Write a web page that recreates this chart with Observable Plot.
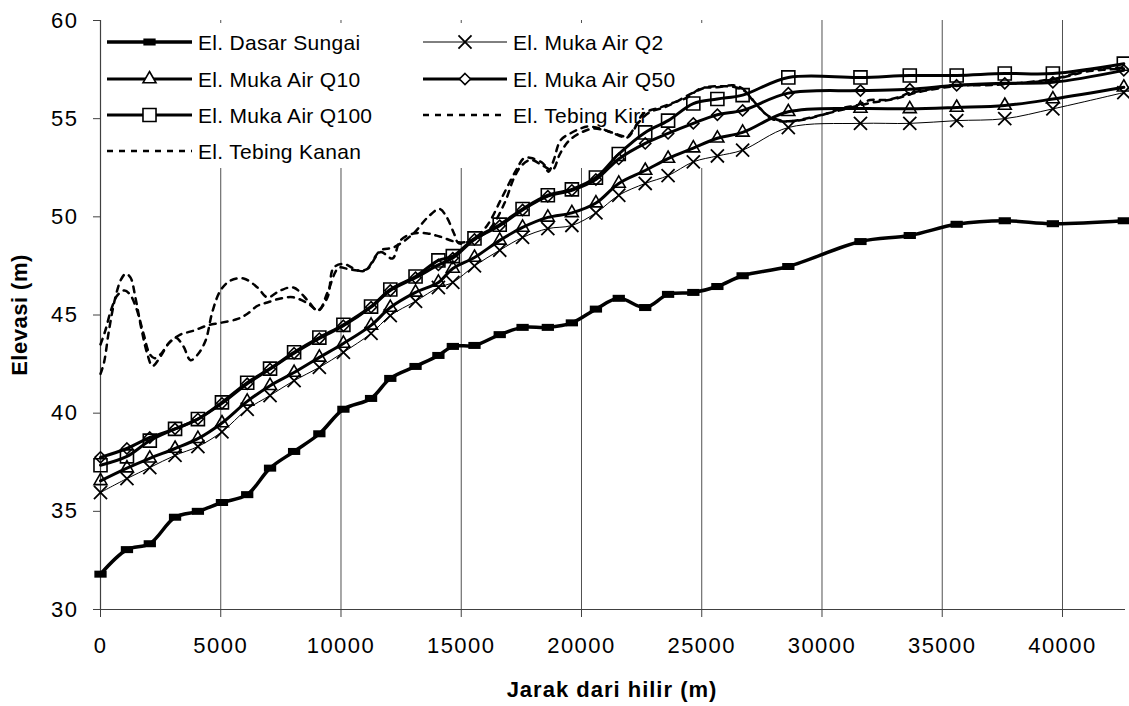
<!DOCTYPE html>
<html>
<head>
<meta charset="utf-8">
<script src="https://cdn.jsdelivr.net/npm/d3@7"></script>
<script src="https://cdn.jsdelivr.net/npm/@observablehq/plot@0.6"></script>
<style>
html,body{margin:0;padding:0;background:#fff;}
#chart{position:relative;width:1129px;height:706px;overflow:hidden;}
</style>
</head>
<body>
<div id="chart"></div>
<script>
// ---------------- DATA ----------------
const stations = [0,1100,2050,3100,4050,5050,6100,7050,8050,9100,10100,11250,12050,13100,14050,14650,15550,16600,17550,18600,19600,20600,21550,22650,23600,24650,25650,26700,28600,31600,33650,35600,37600,39600,42550];

const dasarSungai = [31.8,33.05,33.35,34.7,35.0,35.45,35.85,37.2,38.05,38.95,40.2,40.75,41.77,42.38,42.94,43.4,43.45,44.0,44.37,44.37,44.6,45.3,45.85,45.38,46.05,46.15,46.45,47.0,47.47,48.74,49.05,49.62,49.8,49.65,49.8];
const mukaAirQ2 = [35.96,36.67,37.23,37.85,38.3,39.05,40.2,40.9,41.66,42.33,43.1,44.06,44.97,45.7,46.4,46.66,47.5,48.3,48.95,49.4,49.56,50.2,51.1,51.7,52.1,52.8,53.1,53.4,54.55,54.76,54.76,54.9,55.0,55.5,56.33];
const mukaAirQ10 = [36.55,37.2,37.7,38.2,38.7,39.5,40.6,41.4,42.07,42.84,43.55,44.47,45.38,46.15,46.66,47.37,47.93,48.8,49.46,49.97,50.2,50.7,51.7,52.36,52.97,53.5,54.0,54.3,55.35,55.52,55.5,55.57,55.67,56.0,56.6];
const mukaAirQ50 = [37.75,38.2,38.76,39.2,39.7,40.5,41.5,42.25,43.05,43.8,44.45,45.4,46.25,46.9,47.55,47.9,48.85,49.55,50.35,51.05,51.35,51.9,52.95,53.74,54.25,54.76,55.2,55.42,56.3,56.43,56.5,56.7,56.8,56.85,57.46];
const mukaAirQ100 = [37.35,37.8,38.6,39.2,39.7,40.55,41.55,42.27,43.1,43.85,44.5,45.43,46.3,46.96,47.78,48.0,48.9,49.6,50.4,51.1,51.4,52.0,53.2,54.3,54.9,55.77,56.0,56.2,57.1,57.1,57.2,57.2,57.3,57.3,57.8];

const tebingKiriJarak = [0,200,450,700,1000,1250,1500,1800,2050,2250,2500,2830,3320,3870,4450,4990,5700,6110,6530,6940,7480,8020,8610,9070,9440,9900,10270,10690,11100,11640,12140,12470,13010,13600,14100,14900,15550,16200,16800,17200,17500,17900,18400,18800,19100,19500,20000,20500,21000,21500,21900,22300,22800,23500,24000,24600,25200,25800,26400,26800,27300,27900,28500,29300,30000,31000,32000,33000,34000,35500,37000,38500,40000,41000,42550];
const tebingKiriElev = [43.5,44.2,45.3,46.0,46.25,46.0,45.3,44.0,43.0,42.8,43.0,43.55,44.0,44.2,44.47,44.6,44.8,45.06,45.47,45.64,45.84,45.9,45.6,45.23,46.15,47.4,47.35,47.27,47.35,48.2,47.88,48.8,49.15,49.15,49.0,48.7,48.85,49.4,50.7,52.0,52.6,52.9,52.6,52.4,53.2,53.9,54.3,54.5,54.4,54.2,54.1,54.7,55.3,55.6,55.9,56.3,56.6,56.65,56.6,56.4,55.7,55.0,54.85,55.0,55.2,55.5,55.8,56.0,56.35,56.65,56.75,56.85,57.1,57.4,57.55];

const tebingKananJarak = [0,150,350,600,850,1050,1250,1450,1700,1950,2160,2500,2830,3120,3450,3740,4050,4370,4660,4990,5400,5950,6530,6940,7480,8020,8610,9020,9440,9690,10100,10690,11020,11640,12180,13010,13600,14100,14400,14700,14900,15550,16100,16630,17050,17340,17590,17900,18420,18630,18840,19130,19540,19960,20250,20790,21330,21910,22160,22580,23280,23830,24410,24950,25650,26320,26690,27150,27700,28300,29000,29600,30300,30900,31500,32000,32600,33200,33600,34200,35400,36700,38100,39400,40500,41100,42550];
const tebingKananElev = [42.0,42.6,44.2,45.8,46.8,47.1,46.9,45.9,44.3,43.0,42.4,42.9,43.55,43.85,43.4,42.7,43.0,43.7,45.2,46.25,46.75,46.86,46.4,45.9,46.25,46.4,45.75,45.23,45.9,47.4,47.6,47.27,47.27,48.29,48.44,49.15,49.97,50.4,49.97,49.15,48.65,48.9,49.6,50.83,51.85,52.5,52.97,53.0,52.7,52.3,52.87,53.9,54.25,54.5,54.6,54.5,54.25,54.04,54.4,55.26,55.57,55.82,56.08,56.54,56.6,56.7,56.54,55.9,55.2,54.9,54.9,55.05,55.3,55.55,55.7,55.95,55.95,56.1,56.3,56.43,56.7,56.7,56.8,56.95,57.3,57.5,57.6];

const xTicks = [0,5000,10000,15000,20000,25000,30000,35000,40000];
const yTicks = [30,35,40,45,50,55,60];
const xDomain = [0, 42620];
const yDomain = [30, 60];

const seriesNames = ["El. Dasar Sungai","El. Muka Air Q2","El. Muka Air Q10","El. Muka Air Q50","El. Muka Air Q100","El. Tebing Kiri","El. Tebing Kanan"];
const xLabel = "Jarak dari hilir (m)";
const yLabel = "Elevasi (m)";

// ---------------- BUILD ----------------
const toRows = (xs, ys) => xs.map((x, i) => ({x, y: ys[i]}));
const dasar = toRows(stations, dasarSungai);
const q2 = toRows(stations, mukaAirQ2);
const q10 = toRows(stations, mukaAirQ10);
const q50 = toRows(stations, mukaAirQ50);
const q100 = toRows(stations, mukaAirQ100);
const kiri = toRows(tebingKiriJarak, tebingKiriElev);
const kanan = toRows(tebingKananJarak, tebingKananElev);

const rectSymbol = {
  draw(ctx, size) {
    const h = Math.sqrt(size) * 0.6, w = h * 1.75;
    ctx.moveTo(-w/2, -h/2); ctx.lineTo(w/2, -h/2); ctx.lineTo(w/2, h/2); ctx.lineTo(-w/2, h/2); ctx.closePath();
  }
};

const style = {
  dasar: {stroke: "#000", strokeWidth: 3.5, symbol: rectSymbol, r: 6.6, fill: "#000", mstroke: "none", msw: 0, dash: null},
  q2:    {stroke: "#000", strokeWidth: 1, symbol: "times", r: 6, fill: "none", mstroke: "#000", msw: 1.8, dash: null},
  q10:   {stroke: "#000", strokeWidth: 3, symbol: "triangle2", r: 6.2, fill: "none", mstroke: "#000", msw: 1.6, dash: null},
  q50:   {stroke: "#000", strokeWidth: 3, symbol: "diamond2", r: 5, fill: "none", mstroke: "#000", msw: 1.6, dash: null},
  q100:  {stroke: "#000", strokeWidth: 3, symbol: "square2", r: 8.3, fill: "none", mstroke: "#000", msw: 1.6, dash: null},
  kiri:  {stroke: "#000", strokeWidth: 2.5, dash: "6,6"},
  kanan: {stroke: "#000", strokeWidth: 2.5, dash: "6,6"}
};

const lineMark = (data, s) => Plot.line(data, {x: "x", y: "y", stroke: s.stroke, strokeWidth: s.strokeWidth, strokeDasharray: s.dash || undefined, curve: "catmull-rom"});
const dotMark = (data, s) => Plot.dot(data, {x: "x", y: "y", symbol: s.symbol, r: s.r, fill: s.fill, stroke: s.mstroke, strokeWidth: s.msw});

const plot = Plot.plot({
  width: 1129, height: 706,
  marginLeft: 100, marginRight: 4, marginTop: 20, marginBottom: 97,
  x: {domain: xDomain},
  y: {domain: yDomain},
  style: {fontFamily: "'Liberation Sans', Arial, sans-serif", fontSize: "22px", color: "#000", background: "#fff", overflow: "visible", letterSpacing: "1.5px"},
  marks: [
    Plot.gridX(xTicks.filter(d => d > 0), {stroke: "#505050", strokeOpacity: 1, strokeWidth: 1}),
    Plot.ruleX([xDomain[0]], {stroke: "#404040", strokeWidth: 1.2}),
    Plot.ruleY([yDomain[0]], {stroke: "#404040", strokeWidth: 1.2}),
    Plot.axisX(xTicks, {tickSize: 8, tickPadding: 20, tickFormat: d => String(d), label: null, stroke: "#404040", fontSize: 22}),
    Plot.axisY(yTicks, {tickSize: 7, tickPadding: 15, label: null, stroke: "#404040", fontSize: 22}),
    lineMark(kanan, style.kanan),
    lineMark(kiri, style.kiri),
    lineMark(dasar, style.dasar),
    lineMark(q2, style.q2),
    lineMark(q10, style.q10),
    lineMark(q50, style.q50),
    lineMark(q100, style.q100),
    dotMark(dasar, style.dasar),
    dotMark(q2, style.q2),
    dotMark(q10, style.q10),
    dotMark(q50, style.q50),
    dotMark(q100, style.q100)
  ]
});

document.getElementById("chart").appendChild(plot);

// ---------------- LEGEND & TITLES ----------------
const NS = "http://www.w3.org/2000/svg";
const svg = d3.select(plot);
const gridNode = plot.querySelector('[aria-label="x-grid"]');
const legendG = document.createElementNS(NS, "g");
if (gridNode) gridNode.after(legendG); else plot.insertBefore(legendG, plot.firstChild.nextSibling);
const lg = d3.select(legendG);
lg.append("rect").attr("x", 101).attr("y", 23).attr("width", 612).attr("height", 145).attr("fill", "#fff");

const symMap = {times: d3.symbolTimes, triangle2: d3.symbolTriangle2, diamond2: d3.symbolDiamond2, square2: d3.symbolSquare2};
const legendLayout = [
  {key: "dasar", col: 0, row: 0},
  {key: "q2", col: 1, row: 0},
  {key: "q10", col: 0, row: 1},
  {key: "q50", col: 1, row: 1},
  {key: "q100", col: 0, row: 2},
  {key: "kiri", col: 1, row: 2},
  {key: "kanan", col: 0, row: 3}
];
const colX = [[107, 192, 198], [423, 507, 513]];
const rowY = [42, 79, 115, 151];
legendLayout.forEach((it, i) => {
  const s = style[it.key];
  const [x0, x1, tx] = colX[it.col];
  const y = rowY[it.row];
  const g = lg.append("g");
  g.append("line").attr("x1", x0).attr("x2", x1).attr("y1", y).attr("y2", y)
    .attr("stroke", s.stroke).attr("stroke-width", s.strokeWidth)
    .attr("stroke-dasharray", s.dash || null);
  if (s.symbol) {
    const type = typeof s.symbol === "string" ? symMap[s.symbol] : s.symbol;
    g.append("path").attr("transform", `translate(${(x0 + x1) / 2},${y})`)
      .attr("d", d3.symbol(type, Math.PI * s.r * s.r)())
      .attr("fill", s.fill === "none" ? "#fff" : s.fill)
      .attr("stroke", s.mstroke).attr("stroke-width", s.msw);
  }
  g.append("text").attr("x", tx).attr("y", y).attr("dy", "0.36em")
    .attr("text-anchor", "start")
    .style("font-size", "21px").style("letter-spacing", "0.3px")
    .attr("fill", "#000").text(seriesNames[i]);
});

svg.append("text").attr("x", 612).attr("y", 697).attr("text-anchor", "middle")
  .style("font-size", "22px").style("font-weight", "bold").style("letter-spacing", "1px")
  .attr("fill", "#000").text(xLabel);
svg.append("text").attr("transform", "translate(27,315) rotate(-90)").attr("text-anchor", "middle")
  .style("font-size", "22px").style("font-weight", "bold").style("letter-spacing", "0.5px")
  .attr("fill", "#000").text(yLabel);
</script>
</body>
</html>
